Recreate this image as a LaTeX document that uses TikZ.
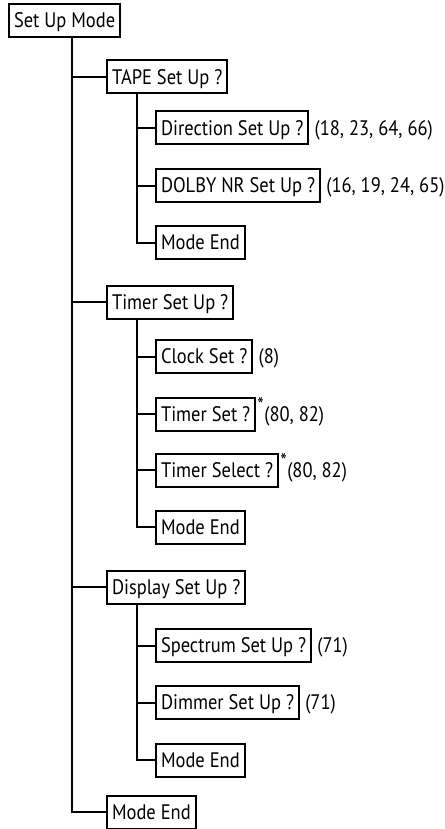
\documentclass[tikz,border=0pt]{standalone}
\usepackage{fontspec}
\setmainfont{PT Sans}[FakeStretch=0.88]
\usetikzlibrary{positioning}
\begin{document}
\begin{tikzpicture}[x=1pt,y=-1pt,
  txt/.style={font=\fontsize{21}{25}\selectfont, text height=14.5pt, text depth=0pt},
  box/.style={txt, draw, line width=2pt, minimum height=33pt, inner xsep=5pt, inner ysep=0pt, anchor=west},
  lbl/.style={txt, inner sep=0pt, anchor=west},
  astr/.style={font=\fontsize{21}{21}\selectfont, inner sep=0pt, anchor=north west},
  wire/.style={line width=2pt}]
\useasboundingbox (0,0) rectangle (444,829);
\coordinate (t0) at (72,0);
\coordinate (t1) at (137,0);
\node[box] (root) at (8,20.5) {Set Up Mode};
\node[box] (tape) at (106,77) {TAPE Set Up ?};
\node[box] (dir) at (155,128) {Direction Set Up ?};
\node[box] (dolby) at (155,185.5) {DOLBY NR Set Up ?};
\node[box] (me1) at (155,242.5) {Mode End};
\node[box] (timer) at (106,302) {Timer Set Up ?};
\node[box] (clock) at (155,356.5) {Clock Set ?};
\node[box] (tset) at (155,414) {Timer Set ?};
\node[box] (tsel) at (155,470) {Timer Select ?};
\node[box] (me2) at (155,527) {Mode End};
\node[box] (disp) at (106,587) {Display Set Up ?};
\node[box] (spec) at (155,645.5) {Spectrum Set Up ?};
\node[box] (dim) at (155,702.5) {Dimmer Set Up ?};
\node[box] (me3) at (155,760) {Mode End};
\node[box] (me4) at (106,812) {Mode End};
% asterisks
\node[astr] (a1) at ([xshift=1pt,yshift=-1pt]tset.north east) {*};
\node[astr] (a2) at ([xshift=1pt,yshift=-1pt]tsel.north east) {*};
% labels
\node[lbl, right=5pt of dir] (ldir) {(18, 23, 64, 66)};
\node[lbl, right=5pt of dolby] (ldolby) {(16, 19, 24, 65)};
\node[lbl, right=5pt of clock] (lclock) {(8)};
\node[lbl, anchor=west] (ltset) at (a1.east |- tset.east) {(80, 82)};
\node[lbl, anchor=west] (ltsel) at (a2.east |- tsel.east) {(80, 82)};
\node[lbl, right=5pt of spec] (lspec) {(71)};
\node[lbl, right=5pt of dim] (ldim) {(71)};
% main trunk
\draw[wire] (t0 |- root.south) -- (t0 |- me4.west) -- (me4.west);
\draw[wire] (t0 |- tape.west) -- (tape.west);
\draw[wire] (t0 |- timer.west) -- (timer.west);
\draw[wire] (t0 |- disp.west) -- (disp.west);
% TAPE branch
\draw[wire] (t1 |- tape.south) -- (t1 |- me1.west) -- (me1.west);
\draw[wire] (t1 |- dir.west) -- (dir.west);
\draw[wire] (t1 |- dolby.west) -- (dolby.west);
% Timer branch
\draw[wire] (t1 |- timer.south) -- (t1 |- me2.west) -- (me2.west);
\draw[wire] (t1 |- clock.west) -- (clock.west);
\draw[wire] (t1 |- tset.west) -- (tset.west);
\draw[wire] (t1 |- tsel.west) -- (tsel.west);
% Display branch
\draw[wire] (t1 |- disp.south) -- (t1 |- me3.west) -- (me3.west);
\draw[wire] (t1 |- spec.west) -- (spec.west);
\draw[wire] (t1 |- dim.west) -- (dim.west);
\end{tikzpicture}
\end{document}
